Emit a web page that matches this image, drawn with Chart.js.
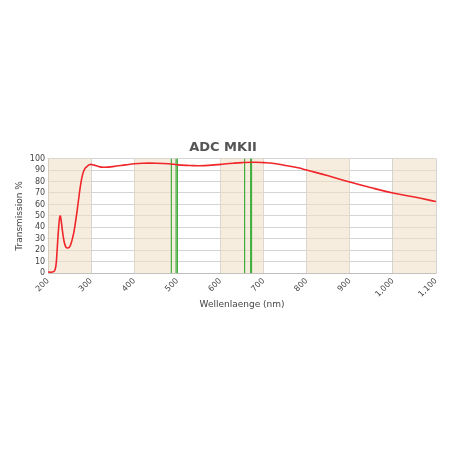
<!DOCTYPE html>
<html><head><meta charset="utf-8">
<script src="https://cdn.jsdelivr.net/npm/chart.js@4"></script>
<style>html,body{margin:0;padding:0;background:#fff}#wrap{position:absolute;left:0;top:0;width:452px;height:452px}</style>
</head><body>
<div id="wrap"><canvas id="c"></canvas></div>
<script>
// Transmissionskurve
const wavelengths = [200,210,215,218,220,223,226,228,230,233,237,241,245,250,255,260,265,270,275,280,285,290,295,300,305,310,320,330,350,380,400,420,450,480,500,530,550,580,600,630,650,680,700,720,750,780,800,850,900,950,1000,1050,1100];
const transmission = [1,1,2,6,14,32,46,50,47,38,28,23,22,23,28,36,48,62,76,86,91,93,94.5,95,94.5,94,92.8,92.5,93,94.5,95.5,96,96,95.5,94.5,94,93.8,94.3,95,96,96.5,96.8,96.5,96,94,92,90,85,79.5,74.5,70,66.5,62.5];
const greenLines = [486,497,500,656,670,672];
const bands = [[200,300],[400,500],[600,700],[800,900],[1000,1100]];

const bandPlugin = {
  id: 'bands',
  beforeDatasetsDraw(chart) {
    const {ctx, chartArea, scales} = chart;
    ctx.save();
    ctx.fillStyle = 'rgba(240,222,195,0.55)';
    bands.forEach(([a, b]) => {
      const x1 = scales.x.getPixelForValue(a), x2 = scales.x.getPixelForValue(b);
      ctx.fillRect(x1, chartArea.top, x2 - x1, chartArea.bottom - chartArea.top);
    });
    ctx.restore();
  }
};

const datasets = [{
  data: wavelengths.map((w, i) => ({x: w, y: transmission[i]})),
  borderColor: '#f0262a', borderWidth: 1.6, pointRadius: 0, showLine: true, tension: 0.4
}];
greenLines.forEach(g => datasets.push({
  data: [{x: g, y: 0}, {x: g, y: 100}],
  borderColor: '#3fae3f', borderWidth: 1.2, pointRadius: 0, showLine: true
}));

new Chart(document.getElementById('c'), {
  type: 'scatter',
  data: {datasets},
  plugins: [bandPlugin],
  options: {
    responsive: true, maintainAspectRatio: false, animation: false,
    layout: {padding: {top: 140, bottom: 138, left: 10, right: 16}},
    plugins: {
      legend: {display: false}, tooltip: {enabled: false},
      title: {display: true, text: 'ADC MKII', color: '#555', font: {family: 'DejaVu Sans', size: 13, weight: 'bold'}, padding: {top: 0, bottom: 3}}
    },
    scales: {
      x: {
        type: 'linear', min: 200, max: 1100,
        ticks: {stepSize: 100, autoSkip: false, color: '#444', font: {family: 'DejaVu Sans', size: 8}, maxRotation: 45, minRotation: 45,
          callback: v => v.toLocaleString('en-US')},
        grid: {color: '#d4d4d4', drawTicks: false},
        title: {display: true, text: 'Wellenlaenge (nm)', color: '#444', font: {family: 'DejaVu Sans', size: 9}, padding: {top: -3}}
      },
      y: {
        min: 0, max: 100,
        ticks: {stepSize: 10, autoSkip: false, color: '#444', font: {family: 'DejaVu Sans', size: 8}},
        grid: {color: '#d4d4d4', drawTicks: false},
        title: {display: true, text: 'Transmission %', color: '#444', font: {family: 'DejaVu Sans', size: 9}, padding: {bottom: 2}}
      }
    }
  }
});
</script>
</body></html>
